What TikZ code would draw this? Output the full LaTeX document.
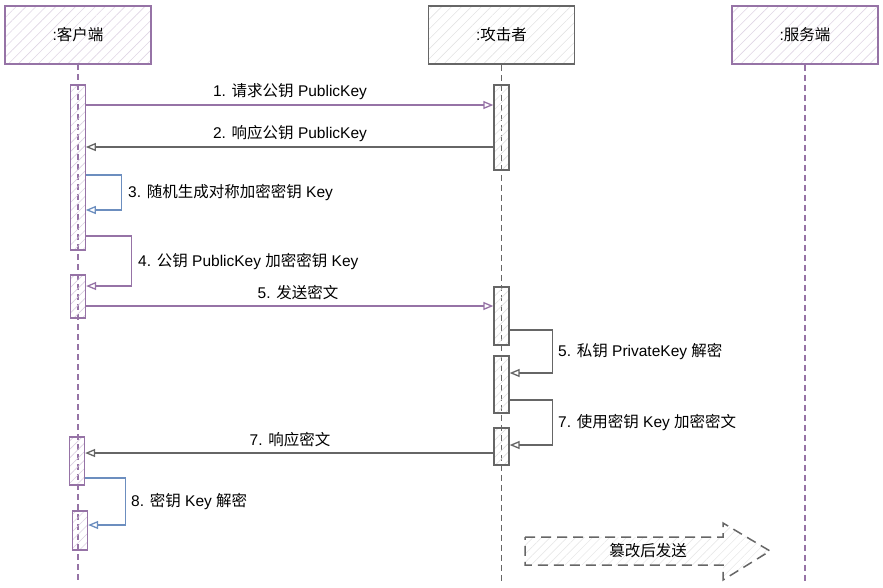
\documentclass[tikz,border=0pt]{standalone}
\usepackage{fontspec}
\setmainfont{Liberation Sans}
\newfontfamily\cjk{Noto Sans CJK SC}
\usetikzlibrary{arrows.meta, patterns.meta, calc}
\definecolor{lilac}{RGB}{150,115,166}
\definecolor{slate}{RGB}{102,102,102}
\definecolor{steel}{RGB}{108,142,191}
\tikzset{
  actorbox/.style={draw=#1, line width=1.6pt, minimum width=146pt, minimum height=58pt, inner sep=0pt,
    pattern={Lines[angle=45,distance=7pt,line width=0.6pt]}, pattern color=#1!30},
  actbar/.style={draw=#1, line width=1.3pt, minimum width=15pt, inner sep=0pt,
    pattern={Lines[angle=45,distance=6pt,line width=0.6pt]}, pattern color=#1!35},
  lifeline/.style={draw=#1, line width=1.1pt, dash pattern=on 6pt off 4pt},
  msgline/.style={draw=#1, line width=1.3pt, -{Triangle[open, length=10pt, width=8pt, line width=1.3pt]}},
  lbl/.style={font=\fontsize{15.5}{18}\selectfont, fill=white, inner sep=1pt},
}

\begin{document}
\begin{tikzpicture}[x=1pt, y=-1pt]
\useasboundingbox (0,0) rectangle (883,587);

% actors
\node[actorbox=lilac] (client) at (78,35) {\fontsize{15.5}{18}\selectfont :{\cjk 客户端}};
\node[actorbox=slate, pattern color=slate!18] (attacker) at (501.5,35) {\fontsize{15.5}{18}\selectfont :{\cjk 攻击者}};
\node[actorbox=lilac] (server) at (805,35) {\fontsize{15.5}{18}\selectfont :{\cjk 服务端}};

% lifelines
\coordinate (bottom) at (0,582);
\draw[lifeline=lilac] (client.south) -- (client.south |- bottom);
\draw[lifeline=slate] (attacker.south) -- (attacker.south |- bottom);
\draw[lifeline=lilac] (server.south) -- (server.south |- bottom);

% activation bars
\node[actbar=lilac, minimum height=165pt] (cbar1) at (78,167.5) {};
\node[actbar=lilac, minimum height=43pt] (cbar2) at (78,296.5) {};
\node[actbar=lilac, minimum height=48pt] (cbar3) at (77,461) {};
\node[actbar=lilac, minimum height=39pt] (cbar4) at (80,530.5) {};
\node[actbar=slate, pattern color=slate!20, minimum height=85pt] (abar1) at (501.5,127.5) {};
\node[actbar=slate, pattern color=slate!20, minimum height=58pt] (abar2) at (501.5,316) {};
\node[actbar=slate, pattern color=slate!20, minimum height=57pt] (abar3) at (501.5,384.5) {};
\node[actbar=slate, pattern color=slate!20, minimum height=37pt] (abar4) at (501.5,446.5) {};

% message rows
\coordinate (m1) at (0,105);
\coordinate (m2) at (0,147);
\coordinate (m3) at (0,175);
\coordinate (m3e) at (0,210);
\coordinate (m4) at (0,236);
\coordinate (m4e) at (0,286);
\coordinate (m5) at (0,306);
\coordinate (m6) at (0,330);
\coordinate (m6e) at (0,373);
\coordinate (m7) at (0,400);
\coordinate (m7e) at (0,445);
\coordinate (m8) at (0,453);
\coordinate (m9) at (0,478);
\coordinate (m9e) at (0,525);

% messages
\draw[msgline=lilac] (cbar1.east |- m1) -- (abar1.west |- m1);
\draw[msgline=slate] (abar1.west |- m2) -- (cbar1.east |- m2);
\draw[msgline=steel] (cbar1.east |- m3) -- ++(36,0) |- (cbar1.east |- m3e);
\draw[msgline=lilac] (cbar1.east |- m4) -- ++(46,0) |- (cbar2.east |- m4e);
\draw[msgline=lilac] (cbar2.east |- m5) -- (abar2.west |- m5);
\draw[msgline=slate] (abar2.east |- m6) -- ++(43,0) |- (abar3.east |- m6e);
\draw[msgline=slate] (abar3.east |- m7) -- ++(43,0) |- (abar4.east |- m7e);
\draw[msgline=slate] (abar4.west |- m8) -- (cbar3.east |- m8);
\draw[msgline=steel] (cbar3.east |- m9) -- ++(40,0) |- (cbar4.east |- m9e);

% labels
\node[lbl] (t1) at (290,92) {1. {\cjk 请求公钥} PublicKey};
\node[lbl] (t2) at (290,134) {2. {\cjk 响应公钥} PublicKey};
\node[lbl, anchor=west] (t3) at (127,193) {3. {\cjk 随机生成对称加密密钥} Key};
\node[lbl, anchor=west] (t4) at (137,262) {4. {\cjk 公钥} PublicKey {\cjk 加密密钥} Key};
\node[lbl] (t5) at (298,293) {5. {\cjk 发送密文}};
\node[lbl, anchor=west] (t6) at (557,352) {5. {\cjk 私钥} PrivateKey {\cjk 解密}};
\node[lbl, anchor=west] (t7) at (557,423) {7. {\cjk 使用密钥} Key {\cjk 加密密文}};
\node[lbl] (t8) at (290,440) {7. {\cjk 响应密文}};
\node[lbl, anchor=west] (t9) at (130,502) {8. {\cjk 密钥} Key {\cjk 解密}};

% tampered forward
\draw[draw=slate, line width=1.5pt, dash pattern=on 10pt off 6pt,
  pattern={Lines[angle=45,distance=6pt,line width=0.6pt]}, pattern color=slate!15]
  (525,537) -- (723,537) -- (723,523) -- (770,551) -- (723,580) -- (723,565) -- (525,565) -- cycle;
\node[font=\fontsize{15.5}{18}\selectfont\cjk] (forward) at (648,551) {篡改后发送};

\end{tikzpicture}
\end{document}
